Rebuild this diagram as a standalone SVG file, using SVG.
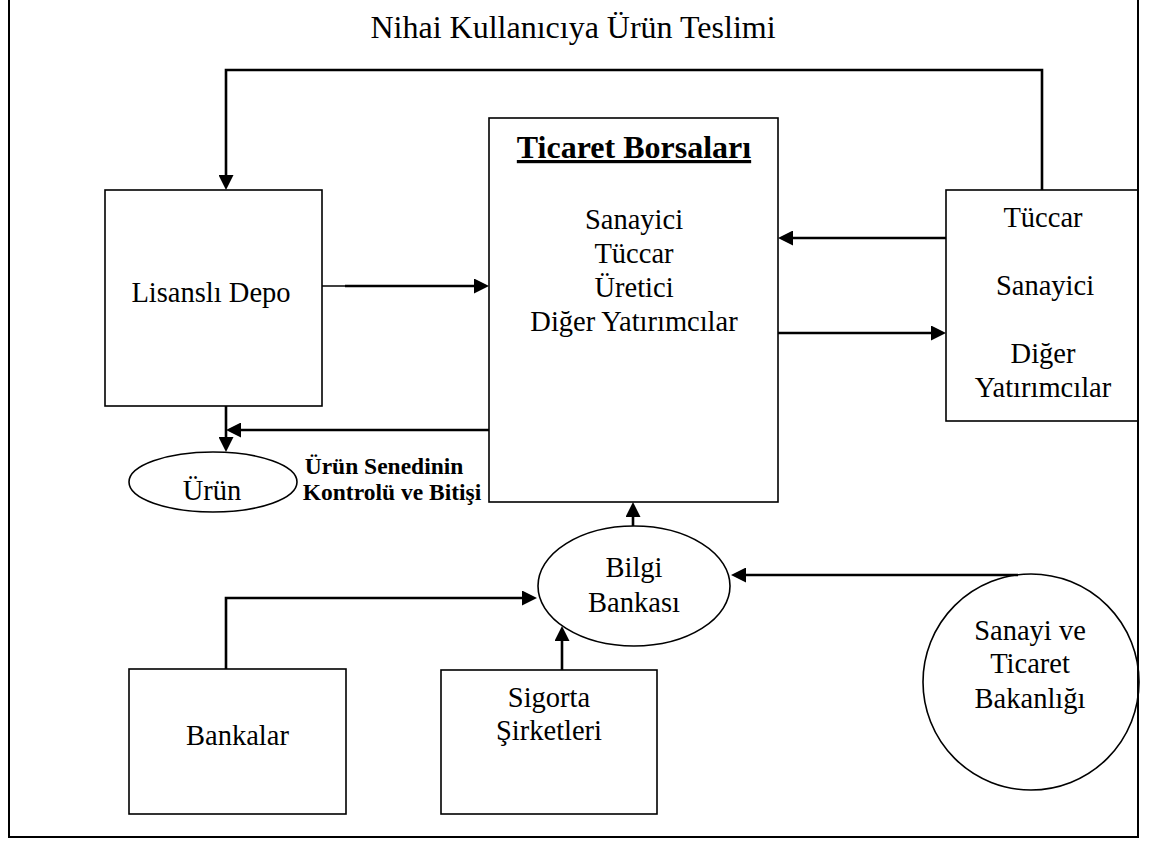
<svg xmlns="http://www.w3.org/2000/svg" width="1149" height="841" viewBox="0 0 1149 841">
<style>
.shape{fill:none;stroke:#000;stroke-width:1.6}
.border{fill:none;stroke:#000;stroke-width:2}
.conn{fill:none;stroke:#000;stroke-width:2.6}
.thin{fill:none;stroke:#000;stroke-width:1.5}
text{fill:#000;text-anchor:middle}
.t{font-size:28.5px}
.title{font-size:32px}
.head{font-size:32px;font-weight:bold;text-decoration:underline}
.lbl{font-size:23.5px;font-weight:bold}
</style>
<defs>
<marker id="ah" markerUnits="userSpaceOnUse" markerWidth="16" markerHeight="15" refX="5" refY="7.5" orient="auto">
<path d="M0,0 L15,7.5 L0,15 z" fill="#000"/>
</marker>
</defs>
<rect class="border" x="9" y="-5" width="1129" height="842" fill="#fff"/>
<g font-family="'Liberation Serif', Tinos, 'Times New Roman', 'DejaVu Serif', serif">
<text class="title" x="573" y="38">Nihai Kullanıcıya Ürün Teslimi</text>
<g id="connectors">
<path class="conn" d="M1042,190 V70 H226 V180" marker-end="url(#ah)"/>
<path class="thin" d="M322,286 H345"/>
<path class="conn" d="M345,286 H479" marker-end="url(#ah)"/>
<path class="conn" d="M489,430 H236" marker-end="url(#ah)"/>
<path class="conn" d="M226,406 V442" marker-end="url(#ah)"/>
<path class="conn" d="M946,238 H788" marker-end="url(#ah)"/>
<path class="conn" d="M778,333 H936" marker-end="url(#ah)"/>
<path class="conn" d="M633,526 V512" marker-end="url(#ah)"/>
<path class="conn" d="M226,669 V598 H527" marker-end="url(#ah)"/>
<path class="conn" d="M562,670 V636" marker-end="url(#ah)"/>
<path class="conn" d="M1018,575 H741" marker-end="url(#ah)"/>
</g>
<g id="lisansli-depo">
<rect class="shape" x="105" y="190" width="217" height="216"/>
<text class="t" x="211" y="302">Lisanslı Depo</text>
</g>
<g id="ticaret-borsalari">
<rect class="shape" x="489" y="118" width="289" height="384"/>
<text class="head" x="634" y="158">Ticaret Borsaları</text>
<text class="t" x="634" y="229">Sanayici</text>
<text class="t" x="634" y="263">Tüccar</text>
<text class="t" x="634" y="297">Üretici</text>
<text class="t" x="634" y="331">Diğer Yatırımcılar</text>
</g>
<g id="tuccar">
<rect class="shape" x="946" y="190" width="192" height="231"/>
<text class="t" x="1043" y="227">Tüccar</text>
<text class="t" x="1045" y="295">Sanayici</text>
<text class="t" x="1043" y="363">Diğer</text>
<text class="t" x="1043" y="397">Yatırımcılar</text>
</g>
<g id="urun">
<ellipse class="shape" cx="213" cy="482" rx="84" ry="30"/>
<text class="t" x="212" y="500">Ürün</text>
</g>
<g id="urun-senedi-label">
<text class="lbl" x="384" y="474">Ürün Senedinin</text>
<text class="lbl" x="392" y="500">Kontrolü ve Bitişi</text>
</g>
<g id="bilgi-bankasi">
<ellipse class="shape" cx="634" cy="586" rx="96" ry="60"/>
<text class="t" x="634" y="577">Bilgi</text>
<text class="t" x="634" y="612">Bankası</text>
</g>
<g id="bankalar">
<rect class="shape" x="129" y="669" width="217" height="145"/>
<text class="t" x="237.5" y="745">Bankalar</text>
</g>
<g id="sigorta">
<rect class="shape" x="441" y="670" width="216" height="144"/>
<text class="t" x="549" y="707">Sigorta</text>
<text class="t" x="549" y="740">Şirketleri</text>
</g>
<g id="sanayi-bakanligi">
<circle class="shape" cx="1031" cy="682" r="108"/>
<text class="t" x="1030" y="640">Sanayi ve</text>
<text class="t" x="1030" y="673">Ticaret</text>
<text class="t" x="1030" y="708">Bakanlığı</text>
</g>
</g>
</svg>
